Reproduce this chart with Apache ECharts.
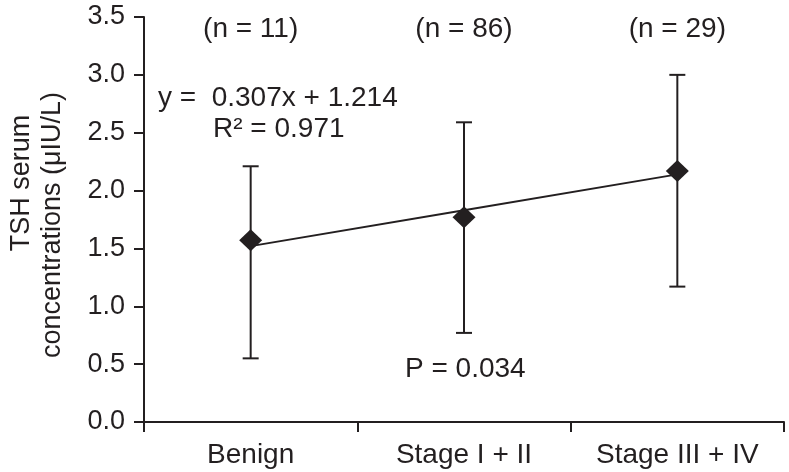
<!DOCTYPE html>
<html>
<head>
<meta charset="utf-8">
<script src="https://cdn.jsdelivr.net/npm/echarts@6/dist/echarts.min.js"></script>
<style>
html,body{margin:0;padding:0;background:#fff;}
#chart{width:789px;height:472px;}
</style>
</head>
<body>
<div id="chart"></div>
<script>
const categories = ['Benign', 'Stage I + II', 'Stage III + IV'];
const meanValues = [1.57, 1.77, 2.17];
const lowValues = [0.55, 0.77, 1.17];
const highValues = [2.21, 2.59, 3.00];
const trendValues = [1.52, 1.83, 2.14];
const nLabels = ['(n = 11)', '(n = 86)', '(n = 29)'];
const yAxisTitle = ['TSH serum', 'concentrations (\u03bcIU/L)'];
const equationText = 'y =  0.307x + 1.214';
const r2Text = 'R\u00b2 = 0.971';
const pText = 'P = 0.034';

const ink = '#231f20';
const FONT = '"Liberation Sans", Arial, Helvetica, sans-serif';
const FS = 28;

const chart = echarts.init(document.getElementById('chart'), null, {renderer: 'canvas'});

const option = {
  animation: false,
  backgroundColor: '#ffffff',
  grid: {left: 144, right: 5, top: 17, bottom: 50, containLabel: false},
  xAxis: {
    type: 'category',
    data: categories,
    boundaryGap: true,
    axisLine: {lineStyle: {color: ink, width: 2}},
    axisTick: {show: true, interval: 0, length: 10, lineStyle: {color: ink, width: 2}},
    axisLabel: {color: ink, fontFamily: FONT, fontSize: FS, margin: 19, interval: 0},
    splitLine: {show: false}
  },
  yAxis: {
    type: 'value',
    min: 0, max: 3.5, interval: 0.5,
    axisLine: {show: true, lineStyle: {color: ink, width: 2}},
    axisTick: {show: true, length: 10, lineStyle: {color: ink, width: 2}},
    axisLabel: {color: ink, fontFamily: FONT, fontSize: 27, margin: 19,
      formatter: v => v.toFixed(1)},
    splitLine: {show: false}
  },
  series: [
    {
      type: 'line',
      data: trendValues,
      symbol: 'none',
      lineStyle: {color: ink, width: 2},
      z: 2
    },
    {
      type: 'custom',
      data: categories.map((c, i) => [i, lowValues[i], highValues[i]]),
      renderItem: function (params, api) {
        const x = api.value(0);
        const pLow = api.coord([x, api.value(1)]);
        const pHigh = api.coord([x, api.value(2)]);
        const hw = 8;
        const st = {stroke: ink, lineWidth: 2};
        return {
          type: 'group',
          children: [
            {type: 'line', shape: {x1: pLow[0], y1: pLow[1], x2: pHigh[0], y2: pHigh[1]}, style: st},
            {type: 'line', shape: {x1: pLow[0] - hw, y1: pLow[1], x2: pLow[0] + hw, y2: pLow[1]}, style: st},
            {type: 'line', shape: {x1: pHigh[0] - hw, y1: pHigh[1], x2: pHigh[0] + hw, y2: pHigh[1]}, style: st}
          ]
        };
      },
      z: 3
    },
    {
      type: 'scatter',
      data: meanValues,
      symbol: 'diamond',
      symbolSize: [23, 22],
      itemStyle: {color: ink, opacity: 1},
      z: 5
    }
  ]
};
chart.setOption(option);

const textStyle = (t, x, y, align) => ({
  type: 'text',
  x: x, y: y,
  style: {text: t, font: FS + 'px ' + FONT, fill: ink, textAlign: align, textVerticalAlign: 'middle'}
});

const graphics = [];
categories.forEach((c, i) => {
  const px = chart.convertToPixel({xAxisIndex: 0}, c);
  graphics.push(textStyle(nLabels[i], px, 29, 'center'));
});
graphics.push(textStyle(equationText, 158, 98, 'left'));
graphics.push(textStyle(r2Text, 213, 129, 'left'));
graphics.push(textStyle(pText, 405, 369, 'left'));
graphics.push({
  type: 'text', x: 22, y: 183, rotation: Math.PI / 2,
  style: {text: yAxisTitle[0], font: '27px ' + FONT, fill: ink, textAlign: 'center', textVerticalAlign: 'middle'}
});
graphics.push({
  type: 'text', x: 53, y: 225, rotation: Math.PI / 2,
  style: {text: yAxisTitle[1], font: '27px ' + FONT, fill: ink, textAlign: 'center', textVerticalAlign: 'middle'}
});
chart.setOption({graphic: graphics});
</script>
</body>
</html>
